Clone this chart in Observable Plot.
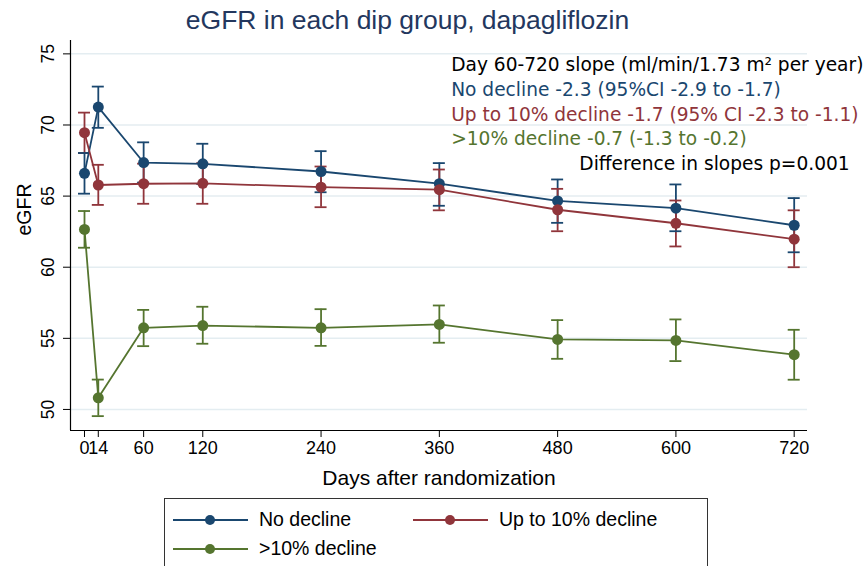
<!DOCTYPE html>
<html><head><meta charset="utf-8">
<script src="https://cdn.jsdelivr.net/npm/d3@7"></script>
<script src="https://cdn.jsdelivr.net/npm/@observablehq/plot@0.6"></script>
<style>
body{margin:0;background:#fff;}
#wrap{position:relative;width:868px;height:566px;overflow:hidden;background:#fff;font-family:"Liberation Sans",Arial,Helvetica,sans-serif;}
#chart{position:absolute;left:0;top:0;}
#title{position:absolute;left:0;width:815px;top:7px;text-align:center;font-size:26.5px;line-height:26.5px;color:#23375e;white-space:nowrap;}
#legend{position:absolute;left:164px;top:498px;width:544px;height:100px;border:1px solid #333;box-sizing:border-box;}
.kline{position:absolute;height:2px;}
.kdot{position:absolute;width:10px;height:10px;border-radius:50%;}
.ktext{position:absolute;font-size:19.5px;line-height:20px;color:#000;white-space:nowrap;}
</style>
</head><body>
<div id="wrap">
  <div id="chart"></div>
  <div id="title">eGFR in each dip group, dapagliflozin</div>
  <div id="legend"></div>
</div>
<script>
// ---- data ----
const days = [0, 14, 60, 120, 240, 360, 480, 600, 720];
const seriesNames = ["No decline", "Up to 10% decline", ">10% decline"];
const seriesColors = ["#1a476f", "#90353b", "#55752f"];

const noDeclineMean = [66.60, 71.26, 67.36, 67.27, 66.73, 65.87, 64.66, 64.15, 62.95];
const noDeclineLo   = [65.17, 69.80, 65.95, 65.85, 65.27, 64.32, 63.12, 62.53, 61.05];
const noDeclineHi   = [68.03, 72.70, 68.78, 68.68, 68.16, 67.32, 66.17, 65.82, 64.86];

const upTo10Mean = [69.46, 65.78, 65.87, 65.90, 65.63, 65.45, 64.04, 63.09, 61.97];
const upTo10Lo   = [68.03, 64.38, 64.46, 64.46, 64.22, 64.00, 62.53, 61.46, 60.00];
const upTo10Hi   = [70.87, 67.20, 67.28, 67.32, 67.08, 66.87, 65.51, 64.69, 64.00];

const over10Mean = [62.66, 50.82, 55.74, 55.90, 55.74, 55.98, 54.92, 54.85, 53.85];
const over10Lo   = [61.37, 49.53, 54.45, 54.62, 54.47, 54.69, 53.56, 53.40, 52.09];
const over10Hi   = [63.95, 52.10, 57.00, 57.22, 57.05, 57.31, 56.28, 56.33, 55.60];

const xTicks = [0, 14, 60, 120, 240, 360, 480, 600, 720];
const yTicks = [50, 55, 60, 65, 70, 75];
const xDomain = [-14.2, 733.5];
const yDomain = [48.52, 75.94];

const annoText = [
  "Day 60-720 slope (ml/min/1.73 m\u00b2 per year)",
  "No decline -2.3 (95%CI -2.9 to -1.7)",
  "Up to 10% decline -1.7 (95% CI -2.3 to -1.1)",
  ">10% decline -0.7 (-1.3 to -0.2)",
  "Difference in slopes p=0.001"
];
const annoColor = ["#000000", "#1a476f", "#90353b", "#55752f", "#000000"];
const annoDay = [372, 372, 372, 372, 502];
const annoValue = [73.78, 72.07, 70.31, 68.61, 66.85];

// ---- build table ----
const seriesData = [
  {name: seriesNames[0], mean: noDeclineMean, lo: noDeclineLo, hi: noDeclineHi},
  {name: seriesNames[1], mean: upTo10Mean, lo: upTo10Lo, hi: upTo10Hi},
  {name: seriesNames[2], mean: over10Mean, lo: over10Lo, hi: over10Hi}
];
const rows = [];
seriesData.forEach(s => days.forEach((d, i) => rows.push({series: s.name, day: d, mean: s.mean[i], lo: s.lo[i], hi: s.hi[i]})));
const annos = annoText.map((t, i) => ({text: t, color: annoColor[i], day: annoDay[i], value: annoValue[i]}));

const chart = Plot.plot({
  width: 868,
  height: 498,
  marginTop: 40,
  marginBottom: 68,
  marginLeft: 70,
  marginRight: 61,
  style: {fontFamily: '"Liberation Sans", Arial, Helvetica, sans-serif', background: "#fff", color: "#000", overflow: "visible"},
  x: {domain: xDomain},
  y: {domain: yDomain},
  color: {domain: seriesNames, range: seriesColors},
  marks: [
    Plot.gridY(yTicks, {stroke: "#e4edf1", strokeOpacity: 1, strokeWidth: 1.5}),
    Plot.ruleX([xDomain[0]], {stroke: "#000", strokeWidth: 1.2}),
    Plot.ruleY([yDomain[0]], {stroke: "#000", strokeWidth: 1.2}),
    Plot.axisY({ticks: yTicks, tickSize: 7, tickRotate: -90, tickPadding: 10, fontSize: 17.5, label: null, stroke: "#000"}),
    Plot.axisX({ticks: xTicks, tickSize: 7, tickPadding: 4, fontSize: 18, label: null, stroke: "#000", tickFormat: d => String(d)}),
    Plot.ruleX(rows, {x: "day", y1: "lo", y2: "hi", stroke: "series", strokeWidth: 1.8}),
    Plot.ruleY(rows, {x1: "day", x2: "day", y: "lo", insetLeft: -6, insetRight: -6, stroke: "series", strokeWidth: 1.8}),
    Plot.ruleY(rows, {x1: "day", x2: "day", y: "hi", insetLeft: -6, insetRight: -6, stroke: "series", strokeWidth: 1.8}),
    Plot.lineY(rows, {x: "day", y: "mean", z: "series", stroke: "series", strokeWidth: 1.8}),
    Plot.dot(rows, {x: "day", y: "mean", fill: "series", r: 5.5}),
    Plot.text(annos, {x: "day", y: "value", text: "text", fill: d => d.color, textAnchor: "start", lineAnchor: "bottom", fontSize: 18.6, fontFamily: '"DejaVu Sans", sans-serif'}),
    Plot.text(["Days after randomization"], {text: d => d, frameAnchor: "bottom", dy: 54, lineAnchor: "bottom", fontSize: 21, fill: "#000"}),
    Plot.text(["eGFR"], {text: d => d, frameAnchor: "left", dx: -46, rotate: -90, lineAnchor: "middle", fontSize: 19.5, fill: "#000"})
  ]
});
document.getElementById("chart").appendChild(chart);

// ---- legend ----
const legend = document.getElementById("legend");
const keyPos = [{x: 8, y: 21}, {x: 248, y: 21}, {x: 8, y: 50}];
seriesNames.forEach((name, i) => {
  const p = keyPos[i];
  const line = document.createElement("div");
  line.className = "kline";
  line.style.cssText = `left:${p.x}px;top:${p.y - 1}px;width:75px;background:${seriesColors[i]};`;
  const dot = document.createElement("div");
  dot.className = "kdot";
  dot.style.cssText = `left:${p.x + 32}px;top:${p.y - 5}px;background:${seriesColors[i]};`;
  const txt = document.createElement("div");
  txt.className = "ktext";
  txt.style.cssText = `left:${p.x + 86}px;top:${p.y - 11}px;`;
  txt.textContent = name;
  legend.append(line, dot, txt);
});
</script>
</body></html>
